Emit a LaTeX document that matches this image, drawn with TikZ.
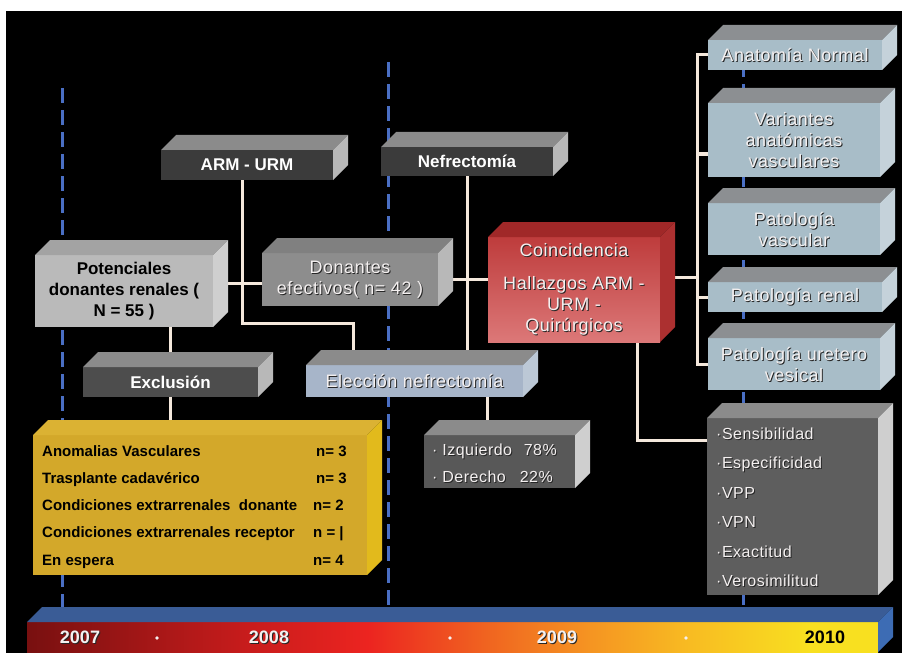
\documentclass[tikz,border=0pt]{standalone}
\usepackage{fontspec}
\setmainfont{Liberation Sans}
\newfontfamily\glowfont[LetterSpace=3]{Liberation Sans}
\usetikzlibrary{backgrounds}

\definecolor{eraBlue}{HTML}{4A6FC4}
\definecolor{linkCream}{HTML}{F4E8DC}
\definecolor{glowWhite}{HTML}{F4F0F0}
\definecolor{darkFront}{HTML}{3B3B3B}
\definecolor{excFront}{HTML}{4D4D4D}
\definecolor{greyTop}{HTML}{8B8B8B}
\definecolor{greySide}{HTML}{B8B8B8}
\definecolor{potFront}{HTML}{BABABA}
\definecolor{potTop}{HTML}{A3A3A3}
\definecolor{potSide}{HTML}{CFCFCF}
\definecolor{donFront}{HTML}{8D8D8D}
\definecolor{donTop}{HTML}{808080}
\definecolor{elecFront}{HTML}{A7B5C9}
\definecolor{elecSide}{HTML}{BCC8D6}
\definecolor{paleFront}{HTML}{A8BDC8}
\definecolor{paleTop}{HTML}{8C8F92}
\definecolor{paleSide}{HTML}{C5D2DA}
\definecolor{statFront}{HTML}{5E5E5E}
\definecolor{statSide}{HTML}{CFCFCF}
\definecolor{sideFront}{HTML}{585858}
\definecolor{goldFront}{HTML}{D3A82A}
\definecolor{goldTop}{HTML}{DBB233}
\definecolor{goldSide}{HTML}{E2BA1C}
\definecolor{coinA}{HTML}{BE3C3C}
\definecolor{coinB}{HTML}{DC7878}
\definecolor{coinTop}{HTML}{A02828}
\definecolor{coinSide}{HTML}{AC3030}
\definecolor{barTop}{HTML}{3A5C96}
\definecolor{barSide}{HTML}{3D6CB4}
\definecolor{yrA}{HTML}{781010}
\definecolor{yrB}{HTML}{C81C1C}
\definecolor{yrC}{HTML}{EC2420}
\definecolor{yrD}{HTML}{F06420}
\definecolor{yrE}{HTML}{F59422}
\definecolor{yrF}{HTML}{F8BC22}
\definecolor{yrG}{HTML}{F8E020}

% the visible part of the bar runs from 25bp to 75bp
\pgfdeclarehorizontalshading{yearbar}{100bp}{color(0bp)=(yrA); color(25bp)=(yrA); color(38bp)=(yrB); color(45bp)=(yrC); color(52bp)=(yrD); color(58bp)=(yrE); color(64bp)=(yrF); color(71bp)=(yrG); color(100bp)=(yrG)}

% 3D slab: name, left, top, right, bottom, front, top face, side face
\newcommand{\slab}[8]{%
  \node[inner sep=0pt, outer sep=0pt, minimum width={#4-#2}, minimum height={#5-#3}, #6] (#1) at ({(#2+#4)/2},{(#3+#5)/2}) {};
  \fill[#7] (#1.north west) -- ++(15,-15) -- ([shift={(15,-15)}]#1.north east) -- (#1.north east) -- cycle;
  \fill[#8] (#1.north east) -- ++(15,-15) -- ([shift={(15,-15)}]#1.south east) -- (#1.south east) -- cycle;
}
% light label with dark shadow: name, position (no parentheses), options, text
\newcommand{\glow}[4]{%
  \node[glowtxt, #3, text=black!85] (#1s) at ([shift={(1,1)}]#2) {#4};
  \node[glowtxt, #3] (#1) at (#2) {#4};
}

\tikzset{
  era/.style={draw=eraBlue, line width=3pt, dash pattern=on 15pt off 7pt},
  link/.style={draw=linkCream, line width=3pt},
  boldtxt/.style={font=\fontsize{17}{21}\selectfont\bfseries, align=center, inner sep=0pt},
  glowtxt/.style={font=\glowfont\fontsize{18}{21}\selectfont, text=glowWhite, align=center, inner sep=0pt},
  smallglow/.style={font=\glowfont\fontsize{16}{19}\selectfont},
  rowtxt/.style={font=\fontsize{15}{18}\selectfont\bfseries, anchor=base west, inner sep=0pt},
}

\begin{document}
\begin{tikzpicture}[x=1pt, y=-1pt]
\useasboundingbox (0,0) rectangle (902,658);
\begin{scope}[on background layer]
  \fill[white] (0,0) rectangle (902,658);
  \fill[black] (6,11) rectangle (902,653);
\end{scope}

% boxes
\slab{arm}{161}{150}{333}{180}{fill=darkFront}{greyTop}{greySide}
\slab{nef}{381}{147}{553}{176}{fill=darkFront}{greyTop}{greySide}
\slab{pot}{35}{255}{213}{327}{fill=potFront}{potTop}{potSide}
\slab{don}{262}{253}{438}{306}{fill=donFront}{donTop}{greySide}
\slab{coin}{488}{237}{660}{342}{top color=coinA, bottom color=coinB}{coinTop}{coinSide}
\slab{exc}{83}{367}{258}{397}{fill=excFront}{greyTop}{greySide}
\slab{elec}{306}{365}{523}{397}{fill=elecFront}{greyTop}{elecSide}
\slab{fails}{33}{435}{367}{575}{fill=goldFront}{goldTop}{goldSide}
\slab{side}{424}{435}{575}{488}{fill=sideFront}{greyTop}{statSide}
\slab{anat}{708}{40}{882}{70}{fill=paleFront}{paleTop}{paleSide}
\slab{vari}{708}{103}{880}{177}{fill=paleFront}{paleTop}{paleSide}
\slab{pvas}{708}{203}{880}{255}{fill=paleFront}{paleTop}{paleSide}
\slab{pren}{708}{282}{882}{312}{fill=paleFront}{paleTop}{paleSide}
\slab{pure}{708}{338}{880}{390}{fill=paleFront}{paleTop}{paleSide}
\slab{stat}{707}{418}{878}{595}{fill=statFront}{greyTop}{statSide}
\slab{bar}{27}{622}{878}{652}{shading=yearbar}{barTop}{barSide}

% labels
\node[boldtxt, text=white] (armt) at (arm) {ARM - URM};
\node[boldtxt, text=white] (neft) at (nef) {Nefrectomía};
\node[boldtxt, text=black] (pott) at (pot) {Potenciales\\donantes renales (\\N = 55 )};
\node[boldtxt, text=white] (exct) at (exc) {Exclusión};
\glow{dont}{don}{}{Donantes\\efectivos( n= 42 )}
\glow{coint}{coin}{}{Coincidencia\\[12pt]Hallazgos ARM -\\URM -\\Quirúrgicos}
\glow{elect}{elec}{}{Elección nefrectomía}
\glow{anatt}{anat}{}{Anatomía Normal}
\glow{varit}{vari}{}{Variantes\\anatómicas\\vasculares}
\glow{pvast}{pvas}{}{Patología\\vascular}
\glow{prent}{pren}{}{Patología renal}
\glow{puret}{pure}{}{Patología uretero\\vesical}

\foreach \t/\n/\nx [count=\i] in {Anomalias Vasculares/n= 3/316, Trasplante cadavérico/n= 3/316,
    Condiciones extrarrenales \ donante/n= 2/313, Condiciones extrarrenales receptor/n = |/313, En espera/n= 4/313}
  {\node[rowtxt] (fail\i) at (42,429+27.2*\i) {\t};
   \node[rowtxt] (cnt\i) at (\nx,429+27.2*\i) {\n};}

\glow{izq}{432,455}{anchor=base west, smallglow}{· Izquierdo}
\glow{izqp}{557,455}{anchor=base east, smallglow}{78\%}
\glow{der}{432,482}{anchor=base west, smallglow}{· Derecho}
\glow{derp}{553,482}{anchor=base east, smallglow}{22\%}

\foreach \m [count=\i] in {Sensibilidad, Especificidad, VPP, VPN, Exactitud, Verosimilitud}
  {\glow{stat\i}{716,409.5+29.5*\i}{anchor=base west, smallglow}{·\m}}

% years
\glow{y2007}{80,637}{font=\fontsize{18}{20}\selectfont\bfseries}{2007}
\glow{y2008}{269,637}{font=\fontsize{18}{20}\selectfont\bfseries}{2008}
\glow{y2009}{557,637}{font=\fontsize{18}{20}\selectfont\bfseries}{2009}
\node[boldtxt, font=\fontsize{18}{20}\selectfont\bfseries, text=black] (y2010) at (825,637) {2010};
\foreach \x in {157,450,686}
  \fill[glowWhite] (\x,638) circle (1.8);

% guide lines and connectors
\begin{scope}[on background layer]
  \foreach \x/\y in {62/88, 388/62, 743/40}
    \draw[era] (\x,\y) -- (\x,607);
  \draw[link] ([xshift=-5]arm.south) -- ++(0,143) -| ([xshift=-61.5]elec.north);
  \draw[link] ([yshift=8]pot.east) -- ([yshift=8]pot.east -| don.west);
  \draw[link] (nef.south) -- (nef.south |- elec.north);
  \draw[link] (don.east) -- (don.east -| coin.west);
  \draw[link] (exc.north |- pot.south) -- (exc.north);
  \draw[link] (exc.south) -- (exc.south |- fails.north);
  \draw[link] ([xshift=-12]side.north) -- ([xshift=-12]side.north |- elec.south);
  \coordinate (bus) at (697,0);
  \draw[link] (anat.west) -- (anat.west -| bus) |- (pure.west);
  \draw[link] ([yshift=-14]vari.west) -- ([yshift=-14]vari.west -| bus);
  \draw[link] (pren.west) -- (pren.west -| bus);
  \draw[link] ([yshift=12]coin.east) -- ([yshift=12]coin.east -| bus);
  \draw[link] ([xshift=63]coin.south) |- ([yshift=66]stat.west);
\end{scope}
\end{tikzpicture}
\end{document}
